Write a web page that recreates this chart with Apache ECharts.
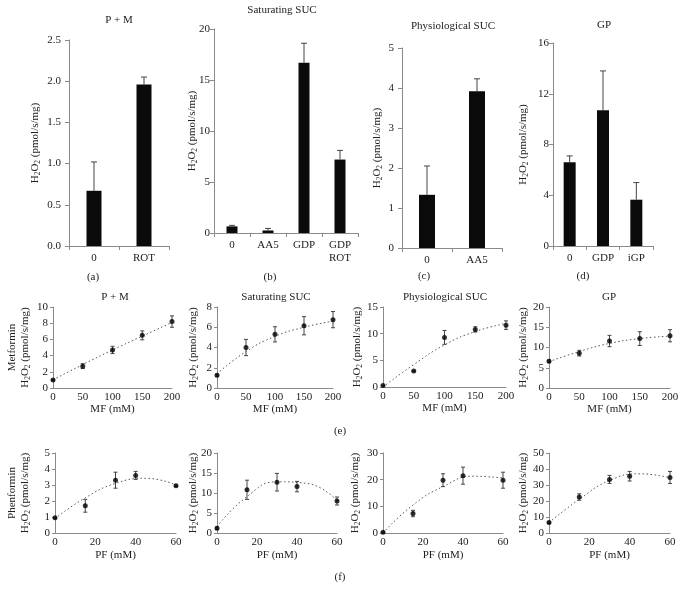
<!DOCTYPE html>
<html><head><meta charset="utf-8">
<script src="https://cdn.jsdelivr.net/npm/echarts@6/dist/echarts.min.js"></script>
<style>html,body{margin:0;padding:0;background:#fff}#c{width:682px;height:601px}</style>
</head><body><div id="c"></div>
<script>
// ---- Top row bar panels ----
const catsA = ['0', 'ROT'];
const valsA = [0.67, 1.96];
const errA = [0.35, 0.09];

const catsB = ['0', 'AA5', 'GDP', 'GDP\nROT'];
const valsB = [0.65, 0.25, 16.7, 7.2];
const errB = [0.1, 0.2, 1.9, 0.9];

const catsC = ['0', 'AA5'];
const valsC = [1.33, 3.92];
const errC = [0.72, 0.31];

const catsD = ['0', 'GDP', 'iGP'];
const valsD = [6.6, 10.7, 3.65];
const errD = [0.5, 3.1, 1.35];

// ---- Metformin row (e) ----
const mfX = [0, 50, 100, 150, 200];
const mfPM = [1.0, 2.7, 4.7, 6.5, 8.2];
const mfPMErr = [0, 0.3, 0.45, 0.55, 0.7];
const mfPMTrend = [1.0, 2.9, 4.7, 6.4, 8.1];
const mfSat = [1.25, 4.0, 5.3, 6.15, 6.75];
const mfSatErr = [0.1, 0.8, 0.75, 0.9, 0.8];
const mfSatTrend = [1.4, 3.6, 5.1, 6.0, 6.6];
const mfPhys = [0.3, 3.0, 9.3, 10.8, 11.6];
const mfPhysErr = [0, 0, 1.3, 0.5, 0.8];
const mfPhysTrend = [0.0, 4.2, 7.9, 10.4, 11.9];
const mfGP = [6.6, 8.6, 11.6, 12.2, 12.9];
const mfGPErr = [0.3, 0.7, 1.4, 1.7, 1.5];
const mfGPTrend = [6.5, 9.0, 11.0, 12.2, 12.8];

// ---- Phenformin row (f) ----
const pfX = [0, 15, 30, 40, 60];
const pfTrendX = [0, 15, 30, 45, 60];
const pfPM = [0.95, 1.7, 3.3, 3.6, 2.95];
const pfPMErr = [0, 0.4, 0.5, 0.25, 0.05];
const pfPMTrend = [0.9, 2.2, 3.1, 3.42, 3.0];
const pfSat = [1.2, 10.8, 12.7, 11.6, 8.0];
const pfSatErr = [0.3, 2.4, 2.2, 1.3, 1.0];
const pfSatTrend = [1.6, 9.1, 12.8, 12.4, 8.1];
const pfPhys = [0.3, 7.3, 19.8, 21.5, 19.8];
const pfPhysErr = [0, 1.2, 2.4, 3.2, 3.0];
const pfPhysTrend = [0.0, 10.5, 17.4, 21.3, 20.6];
const pfGP = [6.5, 22.5, 33.5, 35.5, 34.7];
const pfGPErr = [0.5, 2.0, 2.5, 3.0, 3.8];
const pfGPTrend = [6.5, 21.0, 32.8, 37.0, 34.5];

const FONT = 'Liberation Serif';
const AX = '#8a8a8a';
const TXT = '#222';

const grids = [], xAxes = [], yAxes = [], series = [];

function yName(extra) {
  return (extra ? '{n|' + extra + '}\n' : '') + '{n|H}{s|2}{n|O}{s|2}{n| (pmol/s/mg)}';
}
const nameRich = {
  n: {fontFamily: FONT, fontSize: 11, color: TXT, lineHeight: 13},
  s: {fontFamily: FONT, fontSize: 7.5, color: TXT, lineHeight: 13, verticalAlign: 'bottom', padding: [4, 0, 0, 0]}
};

function errRender(cap, both) {
  return function (params, api) {
    const x = api.value(0), lo = api.value(1), hi = api.value(2);
    const a = api.coord([x, lo]), b = api.coord([x, hi]);
    const st = {stroke: '#444', lineWidth: 1};
    const ch = [
      {type: 'line', shape: {x1: a[0], y1: a[1], x2: b[0], y2: b[1]}, style: st},
      {type: 'line', shape: {x1: b[0] - cap, y1: b[1], x2: b[0] + cap, y2: b[1]}, style: st}
    ];
    if (both) ch.push({type: 'line', shape: {x1: a[0] - cap, y1: a[1], x2: a[0] + cap, y2: a[1]}, style: st});
    return {type: 'group', children: ch};
  };
}

function addBar(g, cats, vals, errs, ymax, yint, fmt, barW, nameGap, labMargin) {
  const i = grids.length;
  grids.push({left: g[0], top: g[1], width: g[2], height: g[3], containLabel: false});
  xAxes.push({gridIndex: i, type: 'category', data: cats,
    axisLine: {lineStyle: {color: AX, width: 1}},
    axisTick: {show: true, length: 4, lineStyle: {color: AX}},
    axisLabel: {fontFamily: FONT, fontSize: 11, color: TXT, margin: 6, lineHeight: 13}});
  yAxes.push({gridIndex: i, type: 'value', min: 0, max: ymax, interval: yint,
    name: yName(), nameLocation: 'middle', nameGap: nameGap, nameRotate: 90, nameMoveOverlap: false,
    nameTextStyle: {rich: nameRich},
    axisLine: {show: true, lineStyle: {color: AX, width: 1}},
    axisTick: {show: true, length: 4, lineStyle: {color: AX}},
    splitLine: {show: false},
    axisLabel: {fontFamily: FONT, fontSize: 11, color: TXT, margin: labMargin, formatter: fmt}});
  series.push({type: 'bar', xAxisIndex: i, yAxisIndex: i, data: vals, barWidth: barW,
    itemStyle: {color: '#0a0a0a'}, z: 2});
  series.push({type: 'custom', xAxisIndex: i, yAxisIndex: i, z: 3,
    renderItem: errRender(3, false), encode: {x: 0, y: [1, 2]},
    data: vals.map((v, k) => [k, v, v + errs[k]])});
}

function addScatter(g, xs, xmax, xint, vals, errs, tx, ty, ymax, yint, nameGap, extra, xname, xNameGap) {
  const i = grids.length;
  grids.push({left: g[0], top: g[1], width: g[2], height: g[3], containLabel: false});
  xAxes.push({gridIndex: i, type: 'value', min: 0, max: xmax, interval: xint,
    name: xname, nameLocation: 'middle', nameGap: xNameGap, nameMoveOverlap: false,
    nameTextStyle: {fontFamily: FONT, fontSize: 11, color: TXT},
    axisLine: {lineStyle: {color: AX, width: 1}},
    axisTick: {show: false},
    splitLine: {show: false},
    axisLabel: {fontFamily: FONT, fontSize: 11, color: TXT, margin: 4}});
  yAxes.push({gridIndex: i, type: 'value', min: 0, max: ymax, interval: yint,
    name: yName(extra), nameLocation: 'middle', nameGap: nameGap, nameRotate: 90, nameMoveOverlap: false,
    nameTextStyle: {rich: nameRich},
    axisLine: {show: true, lineStyle: {color: AX, width: 1}},
    axisTick: {show: true, length: 3, lineStyle: {color: AX}},
    splitLine: {show: false},
    axisLabel: {fontFamily: FONT, fontSize: 11, color: TXT, margin: 5}});
  series.push({type: 'line', xAxisIndex: i, yAxisIndex: i, smooth: true, symbol: 'none',
    lineStyle: {color: '#555', width: 1, type: [1.5, 2.5]},
    data: tx.map((x, k) => [x, ty[k]]), z: 2});
  series.push({type: 'custom', xAxisIndex: i, yAxisIndex: i, z: 3,
    renderItem: errRender(2, true), encode: {x: 0, y: [1, 2]},
    data: xs.map((x, k) => [x, vals[k] - errs[k], vals[k] + errs[k]])});
  series.push({type: 'scatter', xAxisIndex: i, yAxisIndex: i, symbol: 'circle', symbolSize: 5,
    itemStyle: {color: '#000'}, data: xs.map((x, k) => [x, vals[k]]), z: 4});
}

const f1 = v => v.toFixed(1);
addBar([69, 40, 100, 206], catsA, valsA, errA, 2.5, 0.5, f1, 15, 27, 8);
addBar([214, 29, 144, 204], catsB, valsB, errB, 20, 5, null, 11, 15, 4);
addBar([402, 48, 100, 200], catsC, valsC, errC, 5, 1, null, 16, 18, 8);
addBar([553, 43, 100, 203], catsD, valsD, errD, 16, 4, null, 12, 23, 4);

addScatter([53, 307, 119, 81], mfX, 200, 50, mfPM, mfPMErr, mfX, mfPMTrend, 10, 2, 21, 'Metformin', 'MF (mM)', 16);
addScatter([217, 307, 116, 81], mfX, 200, 50, mfSat, mfSatErr, mfX, mfSatTrend, 8, 2, 17, null, 'MF (mM)', 16);
addScatter([383, 307, 123, 80], mfX, 200, 50, mfPhys, mfPhysErr, mfX, mfPhysTrend, 15, 5, 19, null, 'MF (mM)', 16);
addScatter([549, 307, 121, 81], mfX, 200, 50, mfGP, mfGPErr, mfX, mfGPTrend, 20, 5, 19, null, 'MF (mM)', 16);

addScatter([55, 453, 121, 80], pfX, 60, 20, pfPM, pfPMErr, pfTrendX, pfPMTrend, 5, 1, 23, 'Phenformin', 'PF (mM)', 17);
addScatter([217, 453, 120, 80], pfX, 60, 20, pfSat, pfSatErr, pfTrendX, pfSatTrend, 20, 5, 17, null, 'PF (mM)', 17);
addScatter([383, 453, 120, 80], pfX, 60, 20, pfPhys, pfPhysErr, pfTrendX, pfPhysTrend, 30, 10, 21, null, 'PF (mM)', 17);
addScatter([549, 453, 121, 80], pfX, 60, 20, pfGP, pfGPErr, pfTrendX, pfGPTrend, 50, 10, 19, null, 'PF (mM)', 17);

const titleStyle = {fontFamily: FONT, fontSize: 11, fontWeight: 'normal', color: TXT};
const titles = [
  ['P + M', 119, 15], ['Saturating SUC', 282, 5], ['Physiological SUC', 453, 21], ['GP', 604, 20],
  ['P + M', 115, 292], ['Saturating SUC', 276, 292], ['Physiological SUC', 445, 292], ['GP', 609, 292],
  ['(a)', 93, 272], ['(b)', 270, 272], ['(c)', 424, 271], ['(d)', 583, 271],
  ['(e)', 340, 426], ['(f)', 340, 572]
];
const titleOpts = titles.map(t => ({text: t[0], left: t[1], top: t[2], textAlign: 'center', textStyle: titleStyle, padding: 0}));

const chart = echarts.init(document.getElementById('c'), null, {renderer: 'canvas'});
chart.setOption({
  animation: false,
  backgroundColor: '#fff',
  title: titleOpts,
  grid: grids, xAxis: xAxes, yAxis: yAxes, series: series
});
</script></body></html>
